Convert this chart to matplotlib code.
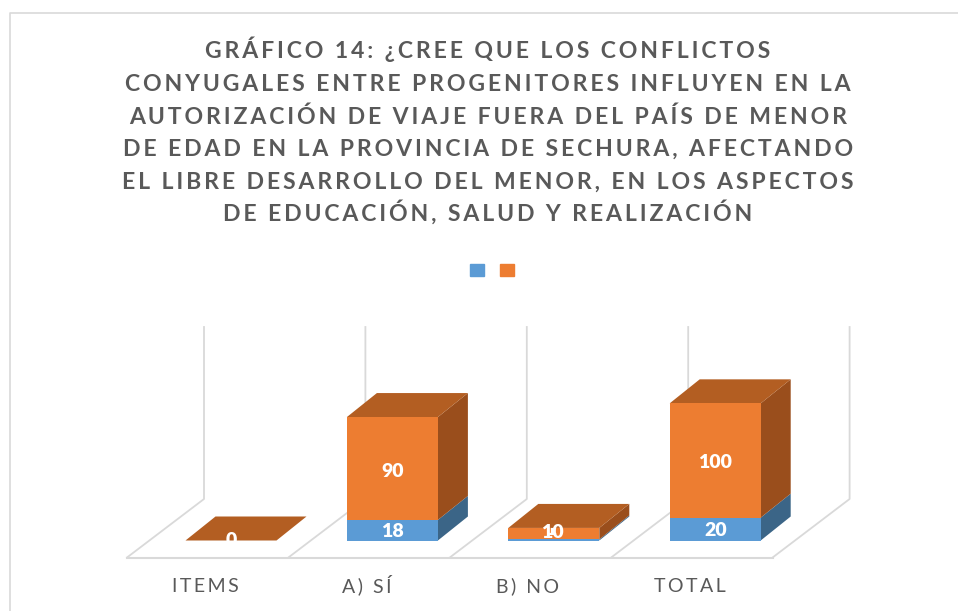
import matplotlib
matplotlib.use("Agg")
from matplotlib.lines import Line2D
from matplotlib.patches import Patch, Polygon, Rectangle
import matplotlib.pyplot as plt

plt.rcParams['font.family'] = ['Lato', 'DejaVu Sans']

title_lines = [
    "GRÁFICO 14: ¿CREE QUE LOS CONFLICTOS",
    "CONYUGALES ENTRE PROGENITORES INFLUYEN EN LA",
    "AUTORIZACIÓN DE VIAJE FUERA DEL PAÍS DE MENOR",
    "DE EDAD EN LA PROVINCIA DE SECHURA, AFECTANDO",
    "EL LIBRE DESARROLLO DEL MENOR, EN LOS ASPECTOS",
    "DE EDUCACIÓN, SALUD Y REALIZACIÓN",
]
categories = ["ITEMS", "A) SÍ", "B) NO", "TOTAL"]
first_series = [0, 18, 1, 20]
second_series = [0, 90, 10, 100]

W, H = 958, 611
X0, X_STEP = 231.0, 161.4   # pixel x of the first bar centre, pixels per category
Y0, Y_STEP = 540.5, 1.143   # pixel y of value 0, pixels per unit
BAR_W = 91 / X_STEP
DX, DY = 30 / X_STEP, 24 / Y_STEP

BLUE, BLUE_SIDE = "#5B9BD5", "#3B6587"
ORANGE, ORANGE_TOP, ORANGE_SIDE = "#ED7D31", "#B35E22", "#9A4E1C"
GRID = "#D9D9D9"
TEXT = "#595959"


def spaced(s, sep="\u2009"):
    # the original has wide tracking, matplotlib has no letter spacing
    return sep.join(s)


def value_y(py):
    return (Y0 - py) / Y_STEP


fig = plt.figure(figsize=(W / 100, H / 100), dpi=100)
ax = fig.add_axes([0, 0, 1, 1])
ax.set_xlim(-X0 / X_STEP, (W - X0) / X_STEP)
ax.set_ylim(value_y(H), value_y(0))
ax.axis("off")

fig.add_artist(Line2D([9.8 / W, 9.8 / W, 1], [0, 1 - 12.5 / H, 1 - 12.5 / H],
                      color=GRID, lw=1.2))

# floor and back walls
left_front = (127 - X0) / X_STEP
left_back = (204 - X0) / X_STEP
for i in range(len(categories) + 1):
    ax.plot([left_front + i, left_back + i, left_back + i],
            [value_y(557.5), value_y(499), value_y(327)], color=GRID, lw=1.3, zorder=1)
ax.plot([left_front, left_front + len(categories)], [value_y(557.5), value_y(557.5)],
        color=GRID, lw=1.5, zorder=1)

# stacked bars, front faces through bar(), sides and tops from the same values
xs = list(range(len(categories)))
ax.bar(xs, first_series, BAR_W, color=BLUE, zorder=3)
ax.bar(xs, second_series, BAR_W, bottom=first_series, color=ORANGE, zorder=3)
for x, a, b in zip(xs, first_series, second_series):
    right = x + BAR_W / 2
    left = x - BAR_W / 2
    for low, high, col in ((0, a, BLUE_SIDE), (a, a + b, ORANGE_SIDE)):
        ax.add_patch(Polygon([(right, low), (right + DX, low + DY),
                              (right + DX, high + DY), (right, high)],
                             color=col, lw=0, zorder=2))
    ax.add_patch(Polygon([(left, a + b), (left + DX, a + b + DY),
                          (right + DX, a + b + DY), (right, a + b)],
                         color=ORANGE_TOP, lw=0, zorder=2))

# value labels, each placed on its own baseline as in the original
label_kw = dict(ha="center", va="baseline", color="white", fontsize=14,
                fontweight="heavy", zorder=5)
ax.text(1, value_y(537.3), str(first_series[1]), **label_kw)
ax.text(1, value_y(476.7), str(second_series[1]), **label_kw)
ax.text(3, value_y(536), str(first_series[3]), **label_kw)
ax.text(3, value_y(468.3), str(second_series[3]), **label_kw)
ax.text(2 - 0.01, value_y(538.3), str(second_series[2]), **label_kw)
one = ax.text(2 - 0.02, value_y(535), str(first_series[2]), clip_on=True, **label_kw)
one.set_clip_path(Rectangle((1.5, 0), 1, 11, transform=ax.transData))
zero = ax.text(0, value_y(546), str(second_series[0]), clip_on=True, **label_kw)
zero.set_clip_path(Rectangle((-0.5, 0), 1, 20, transform=ax.transData))

# category labels sit towards the middle of the floor cell
for x, name in zip(xs, categories):
    ax.text(x - 0.16, value_y(592.5), spaced(name), ha="center", va="baseline",
            color=TEXT, fontsize=14)

for i, line in enumerate(title_lines):
    fig.text(488 / W, 1 - (58.5 + 32.5 * i) / H, spaced(line), ha="center", va="baseline",
             color=TEXT, fontsize=16.6, fontweight="bold")

ax.legend(handles=[Patch(color=BLUE), Patch(color=ORANGE)], labels=["", ""], ncol=2,
          loc="center", bbox_to_anchor=(492 / W, 1 - 270 / H), frameon=False,
          handlelength=1, handleheight=1, handletextpad=0, columnspacing=1.15,
          borderpad=0, borderaxespad=0)

fig.savefig("out.png", dpi=100)
